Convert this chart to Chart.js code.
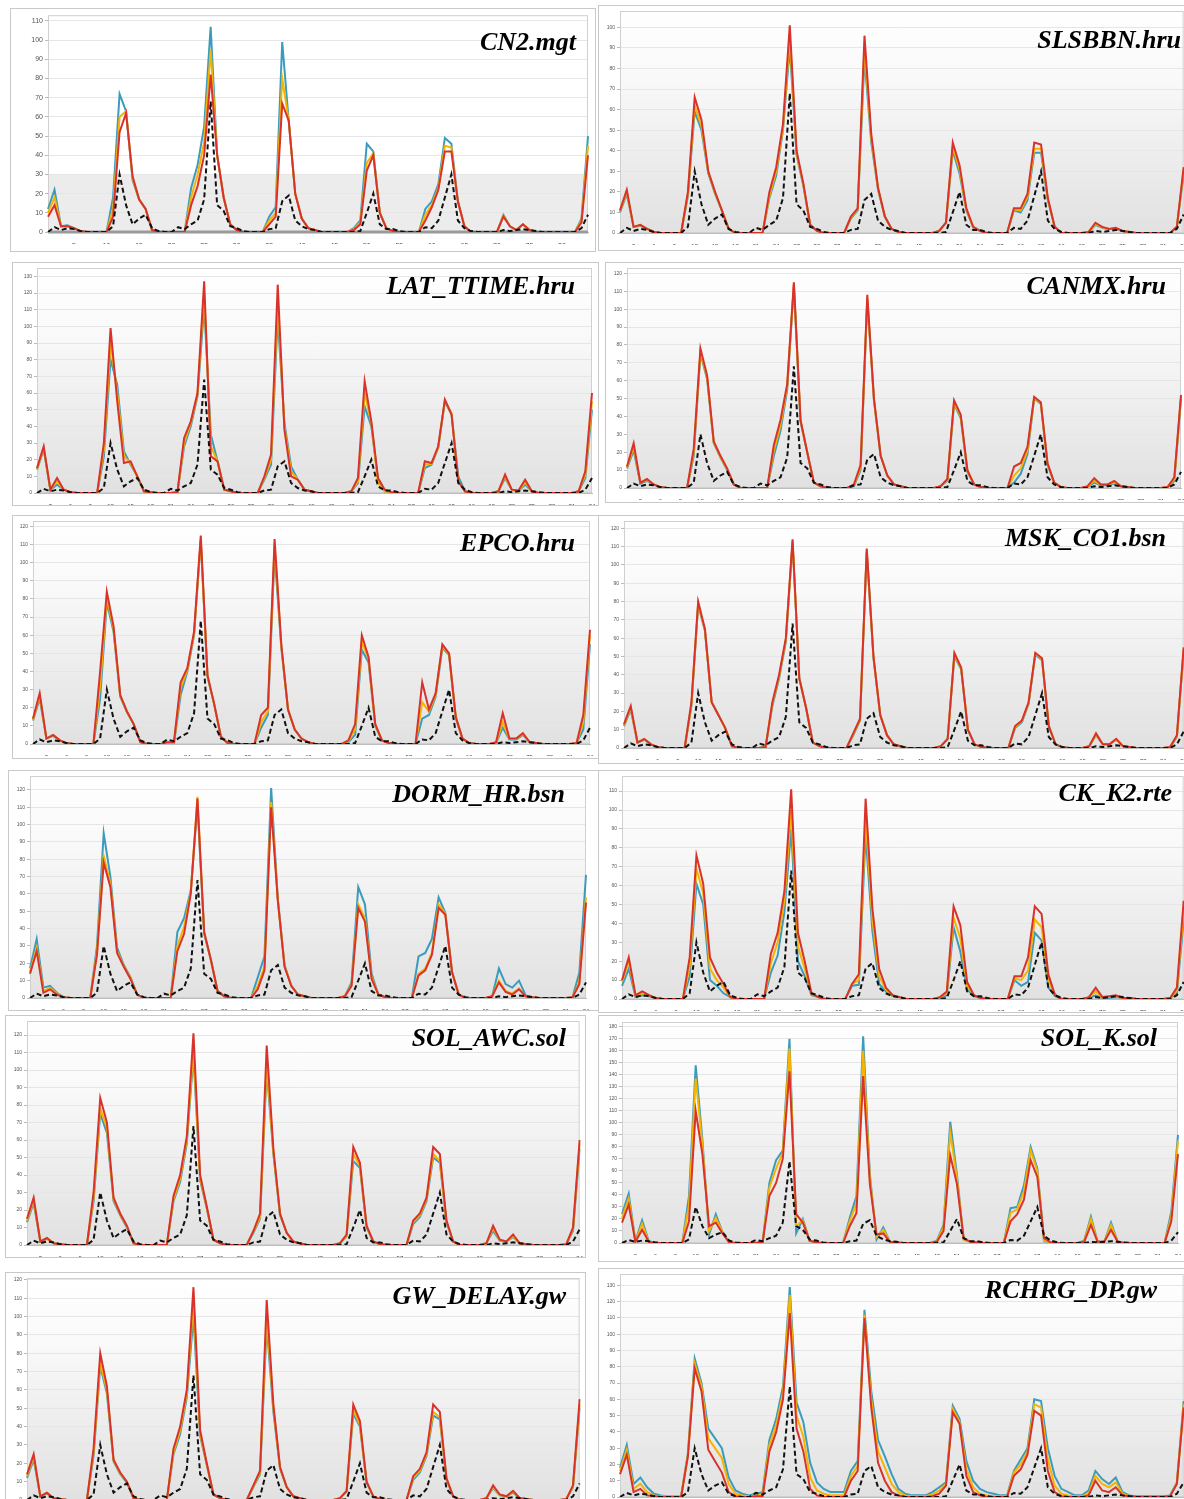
<!DOCTYPE html>
<html>
<head>
<meta charset="utf-8">
<script src="https://cdn.jsdelivr.net/npm/chart.js@4.4.0/dist/chart.umd.min.js"></script>
<style>
  body { margin: 0; width: 1184px; height: 1499px; overflow: hidden; background: #fff; position: relative; }
  .panel { position: absolute; border: 1px solid #c9c9c9; background: #fff; box-sizing: border-box; overflow: hidden; }
  .panel div { position: absolute; left: 0; top: 0; }
  .title { position: absolute; font-family: "Liberation Serif", "Times New Roman", serif; font-weight: bold; font-style: italic;
           font-size: 26px; line-height: 30px; color: #000; white-space: nowrap; z-index: 5; }
</style>
</head>
<body>
<script>
// months 1..84
const months = Array.from({ length: 84 }, (_, i) => String(i + 1));

// observed flow (black dashed), same in every panel
const observed = [
  0, 2.5, 1, 2, 1.5, 0.5, 0, 0, 0, 0, 3, 30,
  14, 4, 7, 9, 2, 0.5, 0, 0, 2.5, 1.5, 4, 6,
  17, 68, 14, 11, 3, 2, 0.5, 0, 0, 0, 1.5, 2,
  16, 19, 6, 3, 1.5, 1, 0, 0, 0, 0, 0, 0,
  0.5, 10, 20, 4, 1.5, 1.5, 0.5, 0, 0, 0, 2.5, 2,
  6, 18, 30, 6, 2, 0.5, 0, 0, 0, 0, 1, 0.5,
  1, 1.5, 1, 0.5, 0, 0, 0, 0, 0, 0, 2, 9
];

// CN2.mgt
const cn2Blue = [
  12, 22, 3, 3.5, 2, 0.5, 0, 0, 0, 0, 18, 72,
  63, 27, 17, 12, 1, 0, 0, 0, 0, 0, 23, 35,
  55, 107, 40, 18, 4, 1, 0, 0, 0, 0, 8, 13,
  99, 58, 20, 7, 2, 1, 0, 0, 0, 0, 0, 2,
  6, 46, 42, 10, 2, 0.5, 0, 0, 0, 0, 12, 16,
  25, 49, 46, 16, 3, 0, 0, 0, 0, 0, 9, 3,
  1, 4, 1, 0, 0, 0, 0, 0, 0, 0, 7, 50
];
const cn2Yellow = [
  10, 18, 3, 3, 2, 0.5, 0, 0, 0, 0, 12, 60,
  63, 28, 17, 12, 1, 0, 0, 0, 0, 0, 18, 30,
  47, 95, 40, 18, 4, 1, 0, 0, 0, 0, 6, 10,
  80, 58, 20, 7, 2, 1, 0, 0, 0, 0, 0, 1.5,
  5, 36, 41, 10, 2, 0.5, 0, 0, 0, 0, 9, 14,
  23, 45, 44, 16, 3, 0, 0, 0, 0, 0, 8.5, 3,
  1, 4, 1, 0, 0, 0, 0, 0, 0, 0, 6, 45
];
const cn2Red = [
  8, 14, 3, 3, 2, 0.5, 0, 0, 0, 0, 8, 52,
  62, 29, 17, 12, 1, 0, 0, 0, 0, 0, 14, 24,
  40, 82, 40, 18, 4, 1, 0, 0, 0, 0, 4, 8,
  67, 58, 20, 7, 2, 1, 0, 0, 0, 0, 0, 1,
  4, 32, 40, 10, 2, 0.5, 0, 0, 0, 0, 6, 13,
  22, 42, 42, 16, 3, 0, 0, 0, 0, 0, 8, 3,
  1, 4, 1, 0, 0, 0, 0, 0, 0, 0, 5, 40
];

// SLSBBN.hru
const slsBlue = [
  10, 19, 3, 3.5, 2, 0.5, 0, 0, 0, 0, 18, 59,
  50, 29, 19, 11, 2, 0, 0, 0, 0, 0, 17, 28,
  50, 90, 38, 23, 4, 1, 0, 0, 0, 0, 7, 11,
  85, 44, 21, 8, 2, 0.5, 0, 0, 0, 0, 0, 1,
  5, 40, 29, 11, 3, 1, 0, 0, 0, 0, 11, 10,
  16, 39, 39, 16, 3, 0, 0, 0, 0, 0.5, 4, 2.5,
  2, 2, 1, 0.5, 0, 0, 0, 0, 0, 0, 3, 29
];
const slsYellow = [
  10.5, 20, 3, 3.8, 2, 0.5, 0, 0, 0, 0, 19, 62,
  52, 29.5, 19.5, 11, 2, 0, 0, 0, 0, 0, 18, 30,
  51, 95, 39, 23.5, 4, 1, 0, 0, 0, 0, 7.5, 11.5,
  90, 46, 21.5, 8, 2, 0.5, 0, 0, 0, 0, 0, 1,
  5, 42, 31, 11.5, 3, 1, 0, 0, 0, 0, 11.5, 11,
  17.5, 41, 41, 16.5, 3, 0, 0, 0, 0, 0.5, 4.5, 2.8,
  2, 2.2, 1, 0.5, 0, 0, 0, 0, 0, 0, 3, 31
];
const slsRed = [
  11, 21, 3, 4, 2, 0.5, 0, 0, 0, 0, 20, 66,
  55, 30, 20, 11, 2, 0, 0, 0, 0, 0, 20, 32,
  53, 101, 40, 24, 4, 1, 0, 0, 0, 0, 8, 12,
  96, 48, 22, 8, 2, 0.5, 0, 0, 0, 0, 0, 1,
  5, 44, 33, 12, 3, 1, 0, 0, 0, 0, 12, 12,
  19, 44, 43, 17, 3, 0, 0, 0, 0, 0.5, 5, 3,
  2, 2.5, 1, 0.5, 0, 0, 0, 0, 0, 0, 3, 32
];

// LAT_TTIME.hru
const latBlue = [
  14, 26, 2, 5, 2, 0.5, 0, 0, 0, 0, 22, 80,
  65, 25, 17, 10, 1, 0.5, 0, 0, 0, 0.5, 28, 40,
  58, 112, 35, 19, 2, 1, 0, 0, 0, 0, 8, 17,
  105, 42, 16, 8, 2, 1, 0, 0, 0, 0, 0, 1,
  6, 52, 40, 8, 1, 0.5, 0, 0, 0, 0, 15, 17,
  27, 55, 47, 10, 1, 0, 0, 0, 0, 1, 9, 2,
  1, 5, 1, 0, 0, 0, 0, 0, 0, 1, 9, 50
];
const latYellow = [
  14.5, 27, 2, 7, 2, 0.5, 0, 0, 0, 0, 26, 90,
  60, 22, 18, 10, 1, 0.5, 0, 0, 0, 0.5, 30, 42,
  59, 120, 28, 19, 2, 1, 0, 0, 0, 0, 9, 20,
  115, 40, 13, 8, 2, 1, 0, 0, 0, 0, 0, 1,
  7, 60, 42, 6, 1, 0.5, 0, 0, 0, 0, 17, 17.5,
  27.5, 55.5, 48, 7, 1, 0, 0, 0, 0, 1, 10, 2,
  1, 6.5, 1, 0, 0, 0, 0, 0, 0, 1, 11, 55
];
const latRed = [
  15, 28, 2, 9, 2, 0.5, 0, 0, 0, 0, 30, 99,
  55, 18, 19, 10, 1, 0.5, 0, 0, 0, 0.5, 33, 43,
  60, 127, 22, 19, 2, 1, 0, 0, 0, 0, 10, 23,
  125, 38, 10, 8, 2, 1, 0, 0, 0, 0, 0, 1,
  9, 67, 43, 9, 2, 0.5, 0, 0, 0, 0, 19, 18,
  28, 56, 47, 7, 1, 0, 0, 0, 0, 1, 11, 2,
  1.5, 8, 1, 0, 0, 0, 0, 0, 0, 1, 13, 60
];

// CANMX.hru
const canBlue = [
  11, 21, 2.5, 4, 2, 0.5, 0, 0, 0, 0, 18, 75,
  61, 25, 17, 10, 2, 0, 0, 0, 0, 0, 18, 32,
  55, 113, 37, 20, 3, 1, 0, 0, 0, 0, 1, 10,
  105, 49, 18, 7, 2, 1, 0, 0, 0, 0, 0, 1,
  4, 47, 39, 9, 2, 0.5, 0, 0, 0, 0, 3, 8,
  19, 50, 47, 13, 3, 0.5, 0, 0, 0, 0.5, 3, 1.5,
  1.5, 2.5, 1, 0.5, 0, 0, 0, 0, 0, 0.5, 4, 50
];
const canYellow = [
  11.5, 23, 3, 4.5, 2, 0.5, 0, 0, 0, 0, 20, 76,
  62, 25.5, 17.5, 10.5, 2, 0, 0, 0, 0, 0, 21, 35,
  57, 114, 37.5, 20, 3, 1, 0, 0, 0, 0, 1.5, 11.5,
  106, 49.5, 18, 7, 2, 1, 0, 0, 0, 0, 0, 1,
  4.5, 48, 40, 9.5, 2, 0.5, 0, 0, 0, 0, 7, 11,
  21, 50.5, 47.5, 13.5, 3, 0.5, 0, 0, 0, 0.7, 4, 1.8,
  1.8, 3, 1, 0.5, 0, 0, 0, 0, 0, 0.5, 5, 51
];
const canRed = [
  12, 25, 3, 5, 2, 0.5, 0, 0, 0, 0, 22, 78,
  63, 26, 18, 11, 2, 0, 0, 0, 0, 0, 24, 38,
  58, 115, 38, 20, 3, 1, 0, 0, 0, 0, 2, 13,
  108, 50, 18, 7, 2, 1, 0, 0, 0, 0, 0, 1,
  5, 49, 41, 10, 2, 0.5, 0, 0, 0, 0, 12, 14,
  23, 51, 48, 14, 3, 0.5, 0, 0, 0, 1, 5.5, 2,
  2, 4, 1, 0.5, 0, 0, 0, 0, 0, 0.5, 6, 52
];

// EPCO.hru
const epcBlue = [
  13, 25, 3, 4.5, 2, 0.5, 0, 0, 0, 0, 25, 78,
  62, 26, 17.5, 11, 1, 0, 0, 0, 0, 0, 27, 40,
  60, 112, 37, 22, 4, 0.5, 0, 0, 0, 0, 9, 16,
  105, 53, 19, 8, 3, 1, 0, 0, 0, 0, 0, 1,
  5, 52, 45, 10, 2, 0.5, 0, 0, 0, 0, 14, 16,
  26, 53, 49, 14, 3, 0.5, 0, 0, 0, 0.5, 9, 2.5,
  2.5, 5, 1, 0.5, 0, 0, 0, 0, 0, 0.5, 8, 55
];
const epcYellow = [
  13.5, 26.5, 3, 5, 2, 0.5, 0, 0, 0, 0, 32, 81,
  63.5, 26.5, 18, 11, 1, 0, 0, 0, 0.5, 0.5, 31, 41,
  61, 113, 37.5, 22, 4, 0.5, 0, 0, 0, 0, 12, 18,
  110, 54, 19, 8, 3, 1, 0, 0, 0, 0, 0, 1.5,
  8, 56, 47, 10.5, 2, 0.5, 0, 0, 0, 0, 23, 18,
  27, 54, 49.5, 14.5, 3, 0.5, 0, 0, 0, 0.7, 12, 2.8,
  2.8, 5.5, 1, 0.5, 0, 0, 0, 0, 0, 0.5, 12, 60
];
const epcRed = [
  14, 28, 3, 5, 2, 0.5, 0, 0, 0, 0, 40, 84,
  65, 27, 18, 11, 1, 0, 0, 0, 1, 1, 34, 42,
  62, 115, 38, 22, 4, 0.5, 0, 0, 0, 0, 16, 20,
  113, 55, 19, 8, 3, 1, 0, 0, 0, 0, 0, 2,
  11, 60, 48, 11, 2, 0.5, 0, 0, 0, 0, 34, 19,
  28, 55, 50, 15, 3, 0.5, 0, 0, 0, 1, 17, 3,
  3, 6, 1, 0.5, 0, 0, 0, 0, 0, 0.5, 16, 63
];

// MSK_CO1.bsn
const mskBlue = [
  12, 21, 3, 4.5, 2, 0.5, 0, 0, 0, 0, 23, 78,
  64, 25, 18, 11, 1, 0, 0, 0, 0, 0.5, 23, 38,
  58, 112, 38, 22, 3, 1, 0, 0, 0, 0, 7, 15,
  107, 49, 18, 7, 2, 1, 0, 0, 0, 0, 0, 1,
  5, 50, 43, 10, 2, 0.5, 0, 0, 0, 0, 11, 14,
  24, 51, 48, 12, 2, 0.5, 0, 0, 0, 1, 7, 2,
  2, 4.5, 1, 0.5, 0, 0, 0, 0, 0, 0.5, 6, 53
];
const mskYellow = [
  12.5, 22, 3, 4.8, 2, 0.5, 0, 0, 0, 0, 24, 79,
  64.5, 25, 18, 11, 1, 0, 0, 0, 0, 0.5, 24, 39,
  59, 113, 38, 22, 3, 1, 0, 0, 0, 0, 7.5, 15.5,
  108, 49.5, 18, 7, 2, 1, 0, 0, 0, 0, 0, 1,
  5, 51, 43.5, 10, 2, 0.5, 0, 0, 0, 0, 11.5, 14.5,
  24.5, 51.5, 48.5, 12, 2, 0.5, 0, 0, 0, 1, 7.5, 2,
  2, 4.8, 1, 0.5, 0, 0, 0, 0, 0, 0.5, 6.5, 54
];
const mskRed = [
  13, 23, 3, 5, 2, 0.5, 0, 0, 0, 0, 25, 80,
  65, 25, 18, 11, 1, 0, 0, 0, 0, 0.5, 25, 40,
  60, 114, 38, 22, 3, 1, 0, 0, 0, 0, 8, 16,
  109, 50, 18, 7, 2, 1, 0, 0, 0, 0, 0, 1,
  5, 52, 44, 10, 2, 0.5, 0, 0, 0, 0, 12, 15,
  25, 52, 49, 12, 2, 0.5, 0, 0, 0, 1, 8, 2,
  2, 5, 1, 0.5, 0, 0, 0, 0, 0, 0.5, 7, 55
];

// DORM_HR.bsn
const dorBlue = [
  17, 34, 6, 7, 3, 0.5, 0, 0, 0, 0, 30, 95,
  70, 29, 19, 12, 2, 0, 0, 0, 0, 0, 38, 46,
  62, 111, 37, 22, 4, 1, 0, 0, 0, 0, 12, 24,
  121, 57, 19, 7, 2, 1, 0, 0, 0, 0, 0, 1,
  9, 64, 54, 14, 2, 0.5, 0, 0, 0, 0, 24, 26,
  34, 58, 49, 15, 2, 0, 0, 0, 0, 1, 17, 8,
  6, 10, 1.5, 0.5, 0, 0, 0, 0, 0, 0.5, 14.5, 71
];
const dorYellow = [
  15, 29, 4, 6, 2.5, 0.5, 0, 0, 0, 0, 27, 82,
  66, 27, 18.5, 11.5, 2, 0, 0, 0, 0, 0, 30, 41,
  61, 116, 37.5, 22, 4, 1, 0, 0, 0, 0, 7, 18,
  113, 56.5, 18.5, 7, 2, 1, 0, 0, 0, 0, 0, 1,
  7.5, 54, 46, 12, 2, 0.5, 0, 0, 0, 0, 14, 17,
  26, 54, 48.5, 15, 2, 0, 0, 0, 0, 1, 10, 4,
  2.5, 5.5, 1, 0.5, 0, 0, 0, 0, 0, 0.5, 9, 58
];
const dorRed = [
  14, 27, 3, 5, 2, 0.5, 0, 0, 0, 0, 25, 78,
  64, 26, 18, 11, 2, 0, 0, 0, 0, 0, 27, 37,
  60, 115, 38, 22, 4, 1, 0, 0, 0, 0, 5, 16,
  110, 56, 18, 7, 2, 1, 0, 0, 0, 0, 0, 1,
  7, 52, 44, 11, 2, 0.5, 0, 0, 0, 0, 13, 16,
  25, 52, 48, 15, 2, 0, 0, 0, 0, 1, 9, 3.5,
  2, 5, 1, 0.5, 0, 0, 0, 0, 0, 0.5, 8, 55
];

// CK_K2.rte
const ckBlue = [
  7, 16, 1, 2, 1.5, 0.5, 0, 0, 0, 0, 12, 61,
  50, 10, 7, 3, 1, 0, 0, 0, 0, 0, 14, 23,
  46, 90, 20, 12, 2, 1, 0, 0, 0, 0, 7, 7.5,
  87, 36, 8, 4, 1.5, 1, 0, 0, 0, 0, 0, 0.5,
  2, 38, 25, 5, 1.5, 0.5, 0, 0, 0, 0, 10, 7,
  9, 35, 31, 6, 1.5, 0, 0, 0, 0, 0.5, 2, 0.5,
  0.5, 1, 0.5, 0.5, 0, 0, 0, 0, 0, 0.5, 3, 42
];
const ckYellow = [
  9, 20, 1.5, 3, 2, 0.5, 0, 0, 0, 0, 17, 69,
  56, 16, 10, 6, 1, 0, 0, 0, 0, 0, 19, 30,
  52, 100, 28, 16, 2.5, 1, 0, 0, 0, 0, 8, 10,
  96, 42, 12, 5, 2, 1, 0, 0, 0, 0, 0, 1,
  3, 43, 32, 7, 2, 0.5, 0, 0, 0, 0, 11, 10,
  15, 42, 38, 10, 2, 0, 0, 0, 0, 0.7, 4, 0.8,
  1, 1.5, 0.5, 0.5, 0, 0, 0, 0, 0, 0.5, 4.5, 47
];
const ckRed = [
  10, 22, 2, 4, 2, 0.5, 0, 0, 0, 0, 22, 76,
  61, 22, 14, 8, 1, 0, 0, 0, 0, 0, 24, 35,
  57, 111, 35, 20, 3, 1, 0, 0, 0, 0, 8, 13,
  106, 48, 16, 6, 2, 1, 0, 0, 0, 0, 0, 1,
  4, 49, 39, 9, 2, 0.5, 0, 0, 0, 0, 12, 12,
  22, 49, 45, 13, 2, 0, 0, 0, 0, 1, 6, 1,
  1.5, 2, 0.5, 0.5, 0, 0, 0, 0, 0, 0.5, 6, 52
];

// SOL_AWC.sol
const awcBlue = [
  13, 24, 2, 3.5, 1, 0.5, 0, 0, 0, 0, 25, 75,
  64, 25, 17, 10, 1, 0, 0, 0, 0, 0, 25, 36,
  58, 108, 37, 21, 3, 1, 0, 0, 0, 0, 7, 15,
  100, 52, 17, 7, 2, 1, 0, 0, 0, 0, 0, 1,
  5, 48, 44, 10, 2, 0.5, 0, 0, 0, 0, 12, 16,
  25, 50, 47, 13, 2, 0, 0, 0, 0, 1, 8, 2.5,
  2, 4.5, 1, 0.5, 0, 0, 0, 0, 0, 0.5, 8, 55
];
const awcYellow = [
  14, 25.5, 2, 3.8, 1, 0.5, 0, 0, 0, 0, 27, 78,
  67, 26, 17.5, 10.5, 1, 0, 0, 0, 0, 0, 26, 38,
  60, 112, 38, 21.5, 3, 1, 0, 0, 0, 0, 7.5, 16,
  104, 53, 17.5, 7, 2, 1, 0, 0, 0, 0, 0, 1,
  5.5, 52, 45, 10.5, 2, 0.5, 0, 0, 0, 0, 13, 17,
  26, 52, 48, 13.5, 2, 0, 0, 0, 0, 1, 9.5, 2.8,
  2, 5, 1, 0.5, 0, 0, 0, 0, 0, 0.5, 9, 58
];
const awcRed = [
  15, 27, 2, 4, 1, 0.5, 0, 0, 0, 0, 30, 84,
  70, 27, 18, 11, 1, 0, 0, 0, 0, 0, 28, 40,
  62, 121, 40, 22, 3, 1, 0, 0, 0, 0, 8, 18,
  114, 55, 18, 7, 2, 1, 0, 0, 0, 0, 0, 1,
  6, 56, 47, 11, 2, 0.5, 0, 0, 0, 0, 14, 18,
  27, 56, 52, 14, 2, 0, 0, 0, 0, 1, 11, 3,
  2, 6, 1, 0.5, 0, 0, 0, 0, 0, 0.5, 10, 60
];

// SOL_K.sol
const solkBlue = [
  24, 41, 1.5, 19, 1.5, 0, 0, 0, 0, 0, 39, 148,
  86, 7, 24, 9, 0.5, 0, 0, 0, 0, 1, 50, 69,
  77, 170, 8, 20, 2, 0.5, 0, 0, 0, 0, 21, 39,
  172, 57, 3, 13, 1, 0.5, 0, 0, 0, 0, 0, 2,
  15, 101, 57, 3, 1, 0.5, 0, 0, 0, 0, 29, 30,
  48, 80, 62, 1.5, 0.5, 0, 0, 0, 0, 2, 22, 1,
  1, 17, 1, 0, 0, 0, 0, 0, 0, 0, 26, 90
];
const solkYellow = [
  21, 37, 1, 16, 1, 0, 0, 0, 0, 0, 31, 137,
  82, 10, 21, 9, 0.5, 0, 0, 0, 0, 1, 46, 62,
  75, 162, 14, 19, 2, 0.5, 0, 0, 0, 0, 18, 33,
  160, 54, 5, 11, 1, 0.5, 0, 0, 0, 0, 0, 1.5,
  13, 92, 54, 3, 1, 0.5, 0, 0, 0, 0, 25, 28,
  43, 77, 60, 2, 0.5, 0, 0, 0, 0, 1.5, 20, 1,
  1, 15, 1, 0, 0, 0, 0, 0, 0, 0, 22, 85
];
const solkRed = [
  17, 32, 1, 11, 1, 0, 0, 0, 0, 0, 18, 110,
  74, 14, 17, 8, 0.5, 0, 0, 0, 0, 1, 39, 50,
  70, 143, 24, 17, 2, 0.5, 0, 0, 0, 0, 14, 25,
  139, 49, 7, 8, 1, 0.5, 0, 0, 0, 0, 0, 1,
  10, 73, 49, 4, 1, 0.5, 0, 0, 0, 0, 18, 24,
  36, 69, 55, 4, 0.5, 0, 0, 0, 0, 1, 15, 1,
  1, 11, 1, 0, 0, 0, 0, 0, 0, 0, 18, 74
];

// GW_DELAY.gw
const gwBlue = [
  12, 22, 2, 3.5, 1, 0.5, 0, 0, 0, 0, 24, 73,
  58, 21, 14, 9.5, 1, 0, 0, 0, 0, 0, 25, 36,
  56, 100, 35, 19, 3, 1, 0, 0, 0, 0, 7, 14,
  95, 48, 17, 7, 2, 1, 0, 0, 0, 0, 0, 1,
  4.5, 47, 40, 9.5, 2, 0.5, 0, 0, 0, 0, 11, 15,
  24, 46, 44, 11, 2, 0, 0, 0, 0, 1, 6.5, 2.5,
  2, 4, 1, 0.5, 0, 0, 0, 0, 0, 0.5, 7, 50
];
const gwYellow = [
  13, 23.5, 2, 3.8, 1, 0.5, 0, 0, 0, 0, 26, 75,
  60, 21.5, 14.5, 10, 1, 0, 0, 0, 0, 0, 26, 38,
  58, 108, 36, 19.5, 3, 1, 0, 0, 0, 0, 7.5, 15,
  100, 50, 17.5, 7, 2, 1, 0, 0, 0, 0, 0, 1,
  5, 49, 41, 10, 2, 0.5, 0, 0, 0, 0, 12, 16,
  25, 48, 45, 11.5, 2, 0, 0, 0, 0, 1, 7, 2.8,
  2, 4.5, 1, 0.5, 0, 0, 0, 0, 0, 0.5, 7.5, 52
];
const gwRed = [
  14, 25, 2, 4, 1, 0.5, 0, 0, 0, 0, 28, 80,
  62, 22, 15, 10, 1, 0, 0, 0, 0, 0, 28, 40,
  60, 116, 38, 20, 3, 1, 0, 0, 0, 0, 8, 16,
  109, 52, 18, 7, 2, 1, 0, 0, 0, 0, 0, 1,
  5, 52, 43, 10, 2, 0.5, 0, 0, 0, 0, 13, 17,
  26, 52, 48, 12, 2, 0, 0, 0, 0, 1, 8, 3,
  2, 5, 1, 0.5, 0, 0, 0, 0, 0, 0.5, 8, 55
];

// RCHRG_DP.gw
const rchBlue = [
  18, 32, 8, 12, 6, 2, 1, 0.5, 0.5, 0.5, 27, 85,
  70, 42, 36, 30, 12, 4, 2, 1, 2, 3, 35, 48,
  68, 129, 58, 46, 21, 9, 5, 3, 3, 3, 16, 22,
  115, 65, 35, 25, 14, 5, 2, 1, 1, 1, 3, 6,
  9, 56, 48, 22, 10, 5, 3, 2, 1, 1, 16, 23,
  30, 60, 59, 30, 13, 5, 3, 1, 1, 4, 16, 11,
  8, 12, 3, 1, 0.5, 0.5, 0.5, 0.5, 0.5, 1, 9, 59
];
const rchYellow = [
  16, 29, 5, 8, 3, 1, 0.5, 0.5, 0.5, 0.5, 26, 82,
  68, 36, 30, 24, 8, 2, 1, 0.5, 1, 1.5, 32, 44,
  64, 124, 50, 37, 12, 4, 2, 1, 1, 1, 13, 19,
  112, 60, 28, 18, 8, 3, 1, 0.5, 0.5, 0.5, 1.5, 4,
  8, 54, 46, 17, 6, 2, 1, 0.5, 0.5, 0.5, 15, 20,
  28, 57, 55, 23, 7, 2, 1, 0.5, 0.5, 2, 13, 8,
  6, 9, 2, 0.5, 0, 0, 0, 0, 0, 0.5, 8.5, 57
];
const rchRed = [
  14, 26, 3, 5, 1, 0.5, 0, 0, 0, 0, 25, 79,
  65, 29, 22, 15, 3, 0.5, 0, 0, 0.5, 0.5, 28, 40,
  60, 113, 42, 28, 5, 1, 0, 0, 0, 0, 10, 16,
  110, 55, 21, 10, 3, 1, 0, 0, 0, 0, 0.5, 2,
  7, 52, 45, 13, 3, 1, 0, 0, 0, 0, 13, 17,
  26, 53, 50, 16, 3, 0.5, 0, 0, 0, 1, 10, 4,
  3, 6, 1, 0.5, 0, 0, 0, 0, 0, 0.5, 8, 55
];

// one entry per panel: series + y max, then where it sits on the page
// box = panel border [x, y, w, h], plot = chart area [left, top, right, bottom], tt = title [right edge, centre y]
const panels = [
  { title: 'CN2.mgt',      s: [cn2Blue, cn2Yellow, cn2Red],   yMax: 113, xStep: 5, band: 30,
    box: [10, 8, 586, 244],     plot: [48, 14, 588, 232],      tt: [576, 42] },
  { title: 'SLSBBN.hru',   s: [slsBlue, slsYellow, slsRed],   yMax: 108, xStep: 3,
    box: [598, 5, 592, 246],    plot: [620, 9, 1184, 233],     tt: [1181, 40] },
  { title: 'LAT_TTIME.hru', s: [latBlue, latYellow, latRed],  yMax: 135, xStep: 3,
    box: [12, 262, 587, 244],   plot: [37, 267, 592, 494],     tt: [575, 286] },
  { title: 'CANMX.hru',    s: [canBlue, canYellow, canRed],   yMax: 123, xStep: 3,
    box: [605, 262, 585, 241],  plot: [627, 267, 1181, 488],   tt: [1166, 286] },
  { title: 'EPCO.hru',     s: [epcBlue, epcYellow, epcRed],   yMax: 123, xStep: 3,
    box: [12, 515, 587, 244],   plot: [33, 520, 590, 744],     tt: [575, 543] },
  { title: 'MSK_CO1.bsn',  s: [mskBlue, mskYellow, mskRed],   yMax: 124, xStep: 3,
    box: [598, 515, 592, 249],  plot: [624, 520, 1184, 748],   tt: [1166, 538] },
  { title: 'DORM_HR.bsn',  s: [dorBlue, dorYellow, dorRed],   yMax: 128, xStep: 3,
    box: [8, 770, 591, 241],    plot: [30, 775, 586, 998],     tt: [565, 794] },
  { title: 'CK_K2.rte',    s: [ckBlue, ckYellow, ckRed],      yMax: 118, xStep: 3,
    box: [598, 770, 592, 243],  plot: [622, 776, 1184, 999],   tt: [1172, 793] },
  { title: 'SOL_AWC.sol',  s: [awcBlue, awcYellow, awcRed],   yMax: 128, xStep: 3,
    box: [5, 1015, 581, 243],   plot: [27, 1020, 580, 1245],   tt: [566, 1038] },
  { title: 'SOL_K.sol',    s: [solkBlue, solkYellow, solkRed], yMax: 184, xStep: 3,
    box: [598, 1015, 592, 247], plot: [622, 1022, 1178, 1243], tt: [1157, 1038] },
  { title: 'GW_DELAY.gw',  s: [gwBlue, gwYellow, gwRed],      yMax: 121, xStep: 3,
    box: [5, 1272, 581, 245],   plot: [27, 1277, 580, 1500],   tt: [566, 1296] },
  { title: 'RCHRG_DP.gw',  s: [rchBlue, rchYellow, rchRed],   yMax: 137, xStep: 3,
    box: [598, 1268, 592, 245], plot: [620, 1273, 1184, 1497], tt: [1157, 1290] }
];

const colBlue = '#3a9bbd', colYellow = '#f6b400', colRed = '#d8322b';
const yW = 20, xH = 12;

// plot background: grey gradient, or white with grey band for CN2
const plotBg = {
  id: 'plotBg',
  beforeDraw(chart, args, opts) {
    const { ctx, chartArea: a, scales } = chart;
    ctx.save();
    if (opts.band) {
      ctx.fillStyle = '#ffffff';
      ctx.fillRect(a.left, a.top, a.width, a.height);
      const yb = scales.y.getPixelForValue(opts.band);
      ctx.fillStyle = '#ececec';
      ctx.fillRect(a.left, yb, a.width, a.bottom - yb);
    } else {
      const g = ctx.createLinearGradient(0, a.top, 0, a.bottom);
      g.addColorStop(0, '#ffffff');
      g.addColorStop(0.3, '#f9f9f9');
      g.addColorStop(1, '#e1e1e1');
      ctx.fillStyle = g;
      ctx.fillRect(a.left, a.top, a.width, a.height);
    }
    ctx.restore();
  },
  beforeDatasetsDraw(chart, args, opts) {
    const { ctx, chartArea: a } = chart;
    ctx.save();
    ctx.strokeStyle = '#d0d0d0';
    ctx.lineWidth = 1;
    ctx.strokeRect(a.left + 0.5, a.top + 0.5, a.width - 1, a.height - 1);
    if (opts.band) {
      ctx.strokeStyle = '#9a9a9a';
      ctx.lineWidth = 3;
      ctx.beginPath();
      ctx.moveTo(a.left, a.bottom);
      ctx.lineTo(a.right, a.bottom);
      ctx.stroke();
    }
    ctx.restore();
  }
};

function line(data, color, width) {
  return { data: data, borderColor: color, borderWidth: width, pointRadius: 0, tension: 0, fill: false };
}

panels.forEach(function (p) {
  const [bx, by, bw, bh] = p.box;
  const [pl, pt, pr, pb] = p.plot;
  const big = !!p.band;
  const yWidth = big ? 32 : yW;

  const div = document.createElement('div');
  div.className = 'panel';
  div.style.left = bx + 'px';
  div.style.top = by + 'px';
  div.style.width = bw + 'px';
  div.style.height = bh + 'px';
  const wrap = document.createElement('div');
  wrap.style.width = (bw - 2) + 'px';
  wrap.style.height = (bh - 2) + 'px';
  const cv = document.createElement('canvas');
  wrap.appendChild(cv);
  div.appendChild(wrap);
  document.body.appendChild(div);

  const t = document.createElement('span');
  t.className = 'title';
  t.textContent = p.title;
  t.style.right = (1184 - p.tt[0]) + 'px';
  t.style.top = (p.tt[1] - 15) + 'px';
  document.body.appendChild(t);

  const obs = line(observed, '#111', 2);
  obs.borderDash = [5, 3];

  new Chart(cv, {
    type: 'line',
    data: {
      labels: months,
      // first dataset is drawn on top
      datasets: [obs, line(p.s[2], colRed, 2), line(p.s[1], colYellow, 2), line(p.s[0], colBlue, 2)]
    },
    options: {
      responsive: true,
      maintainAspectRatio: false,
      animation: false,
      layout: {
        padding: {
          left: Math.max(0, pl - bx - 1 - yWidth),
          top: Math.max(0, pt - by - 1),
          right: Math.max(0, bx + bw - 1 - pr),
          bottom: Math.max(0, by + bh - 1 - pb - xH)
        }
      },
      plugins: {
        legend: { display: false },
        tooltip: { enabled: false },
        plotBg: { band: p.band || 0 }
      },
      scales: {
        x: {
          grid: { display: false },
          border: { color: '#bdbdbd' },
          ticks: {
            autoSkip: false, maxRotation: 0, padding: 2, color: '#444',
            font: { size: big ? 7 : 6 },
            callback: function (v, i) { return (i + 1) % p.xStep === 0 ? String(i + 1) : ''; }
          },
          afterFit: function (s) { s.height = xH; }
        },
        y: {
          min: 0, max: p.yMax,
          border: { display: false },
          grid: { color: '#e6e6e6', tickLength: 3, tickColor: '#bbb' },
          ticks: { padding: 2, color: '#555', font: { size: big ? 7 : 5 } },
          // one tick every 10, up to the top of the axis
          afterBuildTicks: function (s) {
            const list = [];
            for (let v = 0; v <= p.yMax; v += 10) list.push({ value: v });
            s.ticks = list;
          },
          afterFit: function (s) { s.width = yWidth; }
        }
      }
    },
    plugins: [plotBg]
  });
});
</script>
</body>
</html>
